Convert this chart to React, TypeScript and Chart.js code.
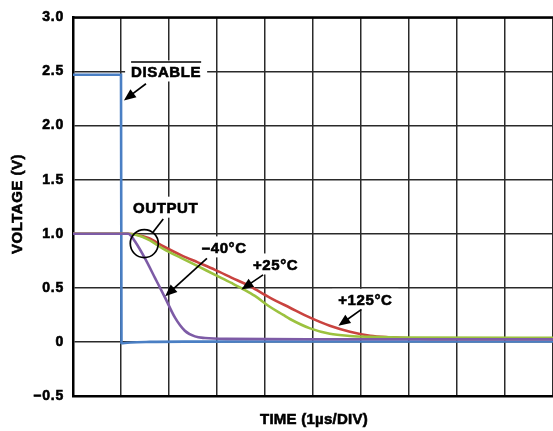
import React, { useEffect, useRef } from 'react';
import { Chart, registerables } from 'chart.js';

Chart.register(...registerables);

// Y axis ticks (volts)
const yTicks = [-0.5, 0, 0.5, 1.0, 1.5, 2.0, 2.5, 3.0];

// DISABLE input (blue)
const disableTime = [0, 0.5, 1.0, 1.01, 1.04, 1.2, 1.6, 2.5, 4, 6, 8, 10];
const disableV = [2.47, 2.47, 2.47, -0.01, -0.012, -0.005, 0.0, 0.003, 0.004, 0.004, 0.004, 0.004];

// OUTPUT at -40°C (purple)
const coldTime = [0, 1.15, 1.2, 1.29, 1.5, 1.71, 1.92, 2.125, 2.33, 2.54, 2.75, 3.2, 5, 10];
const coldV = [1.0, 1.0, 0.985, 0.93, 0.772, 0.59, 0.407, 0.224, 0.103, 0.051, 0.036, 0.028, 0.025, 0.024];

// OUTPUT at +25°C (green)
const roomTime = [0, 1.15, 1.35, 1.57, 1.9, 2.26, 2.6, 2.96, 3.3, 3.58, 3.79, 4.1, 4.38, 4.52, 4.94, 5.35, 5.77, 6.19, 7.0, 10];
const roomV = [1.0, 1.0, 0.985, 0.945, 0.855, 0.775, 0.7, 0.62, 0.545, 0.48, 0.425, 0.325, 0.25, 0.212, 0.125, 0.075, 0.055, 0.047, 0.04, 0.038];

// OUTPUT at +125°C (red)
const hotTime = [0, 1.15, 1.35, 1.57, 1.9, 2.26, 2.6, 2.96, 3.3, 3.69, 4.1, 4.52, 4.94, 5.35, 5.77, 6.19, 6.6, 7.02, 8, 10];
const hotV = [1.0, 1.0, 0.988, 0.96, 0.88, 0.8, 0.735, 0.666, 0.595, 0.514, 0.41, 0.316, 0.224, 0.149, 0.094, 0.057, 0.042, 0.033, 0.028, 0.028];

const toPts = (xs: number[], ys: number[]) => xs.map((x, i) => ({ x, y: ys[i] }));

const FONT = '"Liberation Sans", Arial, Helvetica, sans-serif';

type Label = { text: string; x: number; y: number; overline?: boolean };
type Arrow = { x1: number; y1: number; x2: number; y2: number; head: boolean };

// annotations in data units (divisions, volts)
const labels: Label[] = [
  { text: 'DISABLE', x: 1.94, y: 2.5, overline: true },
  { text: 'OUTPUT', x: 1.93, y: 1.241 },
  { text: '\u201340°C', x: 3.15, y: 0.874 },
  { text: '+25°C', x: 4.22, y: 0.716 },
  { text: '+125°C', x: 6.09, y: 0.389 },
];
const arrows: Arrow[] = [
  { x1: 1.52, y1: 2.387, x2: 1.06, y2: 2.232, head: true },
  { x1: 1.88, y1: 1.137, x2: 1.67, y2: 1.016, head: false },
  { x1: 2.79, y1: 0.772, x2: 1.92, y2: 0.422, head: true },
  { x1: 3.96, y1: 0.62, x2: 3.51, y2: 0.484, head: true },
  { x1: 6.01, y1: 0.301, x2: 5.53, y2: 0.149, head: true },
];
const circle = { x: 1.485, y: 0.909, r: 14 };

const drawBold = (ctx: CanvasRenderingContext2D, t: string, x: number, y: number) => {
  ctx.fillText(t, x, y);
  ctx.strokeText(t, x, y);
};

const annotPlugin = {
  id: 'annot',
  beforeDraw(chart: any) {
    chart.ctx.letterSpacing = '0.8px';
  },
  beforeDatasetsDraw(chart: any) {
    const { ctx, scales } = chart;
    ctx.save();
    ctx.font = `bold 15px ${FONT}`;
    ctx.letterSpacing = '0.6px';
    ctx.fillStyle = '#fff';
    for (const l of labels) {
      const w = ctx.measureText(l.text).width;
      const cx = scales.x.getPixelForValue(l.x);
      const cy = scales.y.getPixelForValue(l.y);
      ctx.fillRect(cx - w / 2 - 6, cy - 11, w + 12, 21);
    }
    ctx.restore();
  },
  afterDatasetsDraw(chart: any) {
    const { ctx, scales } = chart;
    const X = (v: number) => scales.x.getPixelForValue(v);
    const Y = (v: number) => scales.y.getPixelForValue(v);
    ctx.save();
    ctx.fillStyle = '#000';
    ctx.strokeStyle = '#000';
    ctx.font = `bold 15px ${FONT}`;
    ctx.letterSpacing = '0.6px';
    ctx.textAlign = 'center';
    ctx.textBaseline = 'middle';
    ctx.lineWidth = 0.6;
    for (const l of labels) {
      const cx = X(l.x);
      const cy = Y(l.y);
      drawBold(ctx, l.text, cx, cy + 1);
      if (l.overline) {
        const w = ctx.measureText(l.text).width;
        ctx.save();
        ctx.lineWidth = 1.3;
        ctx.beginPath();
        ctx.moveTo(cx - w / 2, cy - 9.5);
        ctx.lineTo(cx + w / 2, cy - 9.5);
        ctx.stroke();
        ctx.restore();
      }
    }
    for (const a of arrows) {
      const x1 = X(a.x1), y1 = Y(a.y1), x2 = X(a.x2), y2 = Y(a.y2);
      const ang = Math.atan2(y2 - y1, x2 - x1);
      const hl = a.head ? 12 : 0;
      ctx.lineWidth = 1.7;
      ctx.beginPath();
      ctx.moveTo(x1, y1);
      ctx.lineTo(x2 - Math.cos(ang) * hl * 0.8, y2 - Math.sin(ang) * hl * 0.8);
      ctx.stroke();
      if (a.head) {
        const hw = 5;
        const bx = x2 - Math.cos(ang) * hl;
        const by = y2 - Math.sin(ang) * hl;
        ctx.beginPath();
        ctx.moveTo(x2, y2);
        ctx.lineTo(bx + Math.sin(ang) * hw, by - Math.cos(ang) * hw);
        ctx.lineTo(bx - Math.sin(ang) * hw, by + Math.cos(ang) * hw);
        ctx.closePath();
        ctx.fill();
      }
    }
    ctx.lineWidth = 1.7;
    ctx.beginPath();
    ctx.arc(X(circle.x), Y(circle.y), circle.r, 0, Math.PI * 2);
    ctx.stroke();
    ctx.restore();
  },
  afterDraw(chart: any) {
    const { ctx, chartArea } = chart;
    ctx.save();
    ctx.strokeStyle = '#000';
    ctx.lineWidth = 2.5;
    ctx.beginPath();
    ctx.moveTo(chartArea.left - 1, chartArea.top);
    ctx.lineTo(chartArea.right, chartArea.top);
    ctx.stroke();
    // axis titles
    ctx.fillStyle = '#000';
    ctx.lineWidth = 0.6;
    ctx.font = `bold 15px ${FONT}`;
    ctx.textAlign = 'center';
    ctx.textBaseline = 'middle';
    ctx.letterSpacing = '0.25px';
    drawBold(ctx, 'TIME (1µs/DIV)', (chartArea.left + chartArea.right) / 2 + 1, 420);
    ctx.translate(18, 204);
    ctx.rotate(-Math.PI / 2);
    ctx.letterSpacing = '0.5px';
    drawBold(ctx, 'VOLTAGE (V)', 0, 0);
    ctx.restore();
  },
};

export default function App() {
  const ref = useRef<HTMLCanvasElement>(null);
  useEffect(() => {
    document.body.style.margin = '0';
    document.body.style.overflow = 'hidden';
    const canvas = ref.current!;
    const line = (data: any[], color: string) => ({
      data,
      borderColor: color,
      backgroundColor: color,
      borderWidth: 2.6,
      pointRadius: 0,
      cubicInterpolationMode: 'monotone' as const,
      fill: false,
    });
    const chart = new Chart(canvas, {
      type: 'line',
      data: {
        datasets: [
          line(toPts(coldTime, coldV), '#7d5ba6'),
          line(toPts(roomTime, roomV), '#9cc23f'),
          line(toPts(hotTime, hotV), '#c9433f'),
          line(toPts(disableTime, disableV), '#4a7fc4'),
        ],
      },
      options: {
        animation: false,
        responsive: false,
        events: [],
        layout: { padding: { top: 12, right: 0, left: 0, bottom: 0 } },
        plugins: { legend: { display: false }, tooltip: { enabled: false } },
        scales: {
          x: {
            type: 'linear',
            min: 0,
            max: 10,
            ticks: { stepSize: 1, display: false },
            grid: { color: '#2a2a2a', lineWidth: 1.5, drawTicks: false },
            border: { color: '#000', width: 2.5 },
            afterFit: (s: any) => { s.height = 35; },
          },
          y: {
            type: 'linear',
            min: -0.5,
            max: 3.0,
            afterBuildTicks: (s: any) => { s.ticks = yTicks.map((v) => ({ value: v })); },
            ticks: {
              color: '#000',
              padding: 9,
              textStrokeColor: '#000',
              textStrokeWidth: 0.6,
              font: { family: FONT, size: 14, weight: 'bold' },
              callback: (v: any) => {
                const n = Number(v);
                if (n === 0) return '0';
                return n < 0 ? '\u2013' + Math.abs(n).toFixed(1) : n.toFixed(1);
              },
            },
            grid: { color: '#2a2a2a', lineWidth: 1.5, drawTicks: false },
            border: { color: '#000', width: 2.5 },
            afterFit: (s: any) => { s.width = 73; },
          },
        },
      },
      plugins: [annotPlugin],
    });
    return () => chart.destroy();
  }, []);
  return <canvas ref={ref} width={553} height={431} style={{ display: 'block' }} />;
}
